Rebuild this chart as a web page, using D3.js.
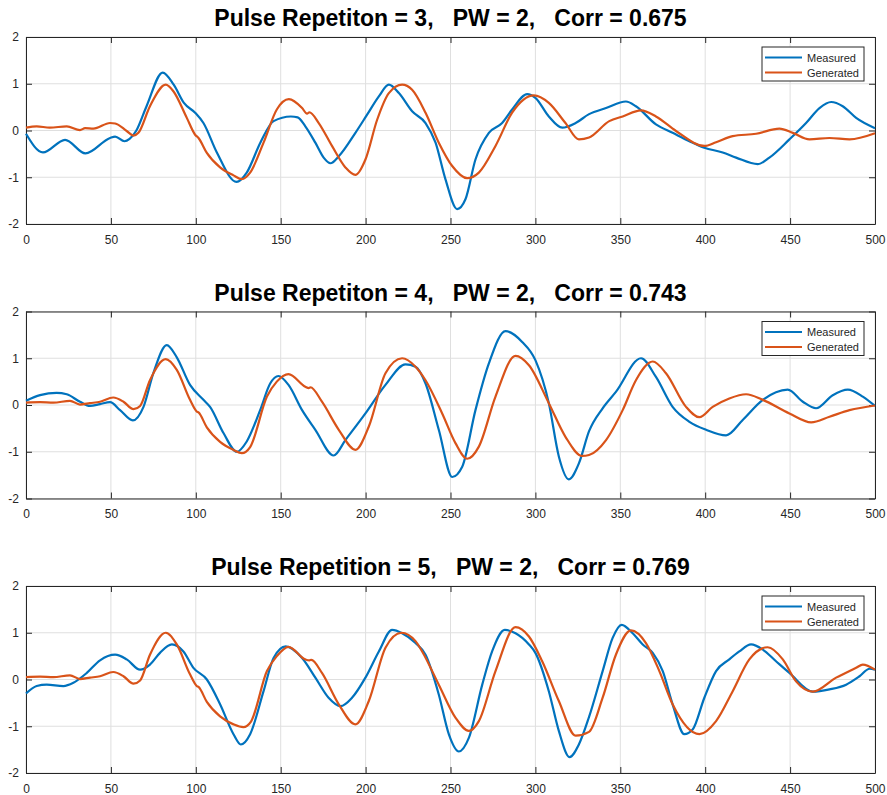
<!DOCTYPE html>
<html>
<head>
<meta charset="utf-8">
<script src="https://cdn.jsdelivr.net/npm/d3@7"></script>
<style>
  html, body { margin: 0; padding: 0; background: #fff; }
  svg { display: block; font-family: "Liberation Sans", Arial, Helvetica, sans-serif; }
</style>
</head>
<body>
<svg id="chart" width="887" height="795"></svg>
<script>
// Axis ticks
const xTickValues = [0, 50, 100, 150, 200, 250, 300, 350, 400, 450, 500];
const yTickValues = [-2, -1, 0, 1, 2];

// Panel titles
const titles = [
  "Pulse Repetiton = 3,   PW = 2,   Corr = 0.675",
  "Pulse Repetiton = 4,   PW = 2,   Corr = 0.743",
  "Pulse Repetition = 5,   PW = 2,   Corr = 0.769"
];

const seriesNames = ["Measured", "Generated"];

// Repetition 3 : [sample, amplitude]
const measured3 = [
  [0,-0.07],[10,-0.47],[23,-0.2],[35,-0.49],[49.5,-0.16],[52.5,-0.13],[58,-0.23],[61,-0.18],
  [65,0],[71,0.52],[80.5,1.24],[87,0.98],[93,0.59],[99.6,0.38],[104.5,0.16],[112.4,-0.47],
  [124,-1.1],[130,-0.9],[138,-0.26],[145.8,0.2],[156,0.3],[160,0.28],[164.5,0.09],[170.4,-0.26],
  [175.3,-0.58],[179.3,-0.7],[184.2,-0.55],[194,-0.05],[200.9,0.34],[207.8,0.73],[213.7,0.98],
  [219.6,0.8],[227.4,0.41],[235.3,0.16],[241.2,-0.26],[247,-1.04],[253.9,-1.68],[258.8,-1.47],
  [264.7,-0.62],[272.6,-0.05],[280.4,0.16],[286.3,0.45],[295.2,0.78],[300,0.7],[307.9,0.3],
  [315.8,0.06],[323.7,0.16],[331.6,0.35],[341.6,0.48],[353.3,0.62],[359.2,0.52],[371,0.13],
  [380.8,-0.05],[390.7,-0.23],[399.5,-0.37],[410.3,-0.47],[418.2,-0.58],[431,-0.72],[437.8,-0.58],
  [449.6,-0.19],[459.4,0.16],[467.3,0.48],[474.2,0.61],[481,0.52],[488.9,0.27],[500,0.05]
];
const generated3 = [
  [0,0.06],[6.3,0.09],[14,0.06],[24,0.09],[31.8,0.01],[34.8,0.05],[39.7,0.04],[49.5,0.16],
  [52.5,0.15],[59.3,-0.01],[63.3,-0.11],[66.2,-0.05],[73,0.52],[82.3,0.98],[86.8,0.84],
  [94.7,0.27],[99.6,-0.09],[101.6,-0.16],[106.5,-0.48],[114.3,-0.79],[122.2,-0.96],[127.1,-1.04],
  [132,-0.9],[139.9,-0.26],[147.7,0.45],[154.8,0.67],[162.6,0.48],[165.5,0.36],[166.9,0.39],
  [172.4,0.16],[180.2,-0.33],[188.1,-0.79],[194,-0.95],[199.9,-0.62],[206.8,0.23],[213.7,0.8],
  [221.5,0.98],[227.4,0.87],[235.3,0.38],[243.1,-0.26],[251,-0.76],[259.8,-1.02],[266.7,-0.9],
  [276.5,-0.33],[286.3,0.38],[299.1,0.75],[307.9,0.59],[317.7,0.16],[325.6,-0.19],[331.6,-0.15],
  [343.5,0.2],[351.4,0.3],[362.2,0.43],[371,0.3],[382.8,-0.01],[399.5,-0.33],[406.4,-0.25],
  [416.2,-0.12],[430,-0.07],[443.7,0.04],[451.6,-0.05],[461.4,-0.19],[473.2,-0.16],[485,-0.19],
  [500,-0.06]
];

// Repetition 4
const measured4 = [
  [0,0.09],[8.3,0.21],[18,0.26],[24,0.23],[31.8,0.07],[37.7,-0.02],[43.6,0.02],[49.5,0.06],
  [55.4,-0.11],[62.9,-0.33],[69.2,-0.04],[75,0.68],[82.9,1.28],[88.8,1.02],[96.6,0.43],
  [104.5,0.11],[108.4,-0.04],[116.3,-0.6],[124.2,-1.0],[130,-0.78],[137.9,-0.11],[143.8,0.46],
  [148.7,0.62],[154.6,0.43],[162.6,-0.11],[170.4,-0.53],[181.2,-1.08],[188.1,-0.75],
  [199.9,-0.18],[211.7,0.43],[223.5,0.87],[229.4,0.82],[235.3,0.46],[243.1,-0.53],[251,-1.54],
  [256.9,-1.32],[264.7,-0.11],[272.6,0.89],[282.4,1.58],[292.2,1.35],[300,0.96],[307.9,0.04],
  [313.8,-1.1],[319.7,-1.59],[325.6,-1.25],[331.6,-0.56],[339.6,-0.07],[347.4,0.28],
  [362.2,1.0],[371,0.6],[380.8,-0.04],[390.7,-0.36],[400.5,-0.53],[412.3,-0.65],[422.1,-0.32],
  [433.9,0.11],[448.6,0.33],[457.5,0.07],[465.3,-0.07],[475.1,0.21],[484,0.33],[492.8,0.18],
  [500,-0.02]
];
const generated4 = [
  [0,0.05],[8.3,0.06],[16.1,0.05],[25.9,0.09],[31.8,0.01],[37.7,0.04],[43.6,0.07],[51.4,0.16],
  [57.4,0.07],[63.3,-0.09],[67.2,-0.02],[73,0.53],[82.3,0.98],[88.8,0.75],[96.6,0.11],
  [100.6,-0.14],[101.6,-0.16],[106.5,-0.48],[114.3,-0.79],[122.2,-0.96],[127.1,-1.03],
  [132,-0.9],[141.9,0.18],[147.7,0.5],[154.6,0.66],[164.5,0.39],[166.5,0.36],[167.5,0.38],
  [174.3,0.07],[184.2,-0.53],[194,-0.96],[201.9,-0.46],[211.7,0.68],[221.5,1.0],[229.4,0.82],
  [235.3,0.53],[245.1,-0.18],[253,-0.82],[259.8,-1.15],[266.7,-0.89],[276.5,0.18],[288.3,1.05],
  [296.2,0.85],[307.9,0.04],[317.7,-0.68],[327.5,-1.09],[331.6,-1.07],[341.6,-0.75],
  [351.4,-0.11],[359.2,0.53],[369.1,0.93],[376.9,0.68],[388.7,-0.04],[396.6,-0.26],
  [404.4,-0.04],[414.2,0.14],[424.1,0.23],[433.9,0.11],[449.6,-0.18],[462.4,-0.37],
  [473.2,-0.25],[485,-0.11],[500,-0.01]
];

// Repetition 5
const measured5 = [
  [0,-0.3],[6.3,-0.14],[12.2,-0.11],[22,-0.14],[27.9,-0.07],[35.8,0.14],[43.6,0.41],[52.5,0.53],
  [59.3,0.43],[67.2,0.21],[73,0.32],[78.9,0.57],[85.9,0.75],[92.7,0.6],[98.6,0.25],[106.5,0],
  [114.3,-0.53],[122.2,-1.17],[126.5,-1.39],[132,-1.17],[139.9,-0.25],[145.8,0.46],
  [153,0.71],[162.6,0.46],[170.4,0.04],[178.2,-0.39],[185.2,-0.57],[192,-0.39],[199.9,0.04],
  [207.8,0.6],[215.6,1.06],[221.5,0.99],[229.4,0.78],[235.3,0.53],[243.1,-0.32],[249,-1.17],
  [254.9,-1.54],[260.8,-1.25],[268.7,-0.11],[274.5,0.6],[282,1.06],[288.3,0.99],[296.2,0.75],
  [300,0.57],[307.9,-0.25],[313.8,-1.1],[320.1,-1.66],[325.6,-1.39],[331.6,-0.8],[339.6,0.18],
  [345.5,0.89],[350.8,1.17],[357.3,0.99],[363.2,0.75],[369.1,0.57],[375,0.18],[380.8,-0.53],
  [387.7,-1.17],[392.6,-1.07],[399.5,-0.39],[406.4,0.18],[414.2,0.43],[420.1,0.6],[427,0.75],
  [433.9,0.64],[441.7,0.39],[449.6,0.14],[463.4,-0.26],[473.2,-0.21],[483,-0.11],[490.9,0.07],
  [496.8,0.23],[500,0.21]
];
const generated5 = [
  [0,0.05],[8.3,0.06],[16.1,0.05],[25.9,0.09],[31.8,0.01],[37.7,0.04],[43.6,0.07],[51.4,0.16],
  [57.4,0.07],[63.3,-0.09],[67.2,-0.02],[73,0.53],[82.3,1.0],[88.8,0.75],[96.6,0.11],
  [100.6,-0.14],[101.6,-0.16],[106.5,-0.48],[114.3,-0.79],[122.2,-0.96],[128,-1.02],
  [132.5,-0.9],[141.9,0.18],[147.7,0.5],[154.6,0.7],[164.5,0.43],[167,0.41],[168,0.42],
  [174.3,0.14],[184.2,-0.53],[194,-0.96],[201.9,-0.46],[211.7,0.68],[221.1,1.0],[229.4,0.82],
  [233.3,0.6],[243.1,-0.11],[253,-0.82],[260.8,-1.1],[266.7,-0.89],[276.5,0.18],[288.3,1.12],
  [296.2,0.92],[304,0.39],[313.8,-0.46],[323.7,-1.2],[331.6,-1.12],[339.6,-0.39],[347.4,0.53],
  [356.3,1.05],[365.1,0.78],[373,0.18],[380.8,-0.53],[396.6,-1.17],[406.4,-0.89],[416.2,-0.25],
  [426,0.43],[436.8,0.69],[445.7,0.43],[453.5,-0.04],[463.4,-0.26],[477.1,0.04],[488.9,0.25],
  [492.8,0.32],[500,0.21]
];

const panels = [
  { title: titles[0], measured: measured3, generated: generated3 },
  { title: titles[1], measured: measured4, generated: generated4 },
  { title: titles[2], measured: measured5, generated: generated5 }
];

const colors = { Measured: "#0072BD", Generated: "#D95319" };
const axisColor = "#262626";
const gridColor = "#dfdfdf";

const svg = d3.select("#chart");

const left = 26, right = 875, plotH = 187;
const panelTops = [37, 311.5, 586];

const x = d3.scaleLinear().domain([0, 500]).range([left, right]);
const plainNumber = d => String(d);

panels.forEach((p, i) => {
  const top = panelTops[i];
  const y = d3.scaleLinear().domain([-2, 2]).range([top + plotH, top]);
  const g = svg.append("g");

  // grid
  g.append("g").selectAll("line").data(xTickValues).join("line")
    .attr("x1", d => x(d)).attr("x2", d => x(d))
    .attr("y1", top).attr("y2", top + plotH)
    .attr("stroke", gridColor).attr("stroke-width", 1);
  g.append("g").selectAll("line").data(yTickValues).join("line")
    .attr("x1", left).attr("x2", right)
    .attr("y1", d => y(d)).attr("y2", d => y(d))
    .attr("stroke", gridColor).attr("stroke-width", 1);

  // axes with inward ticks on all four sides
  const tickLen = 6;
  const bottomAxis = d3.axisBottom(x).tickValues(xTickValues).tickFormat(plainNumber)
    .tickSizeInner(-tickLen).tickSizeOuter(0).tickPadding(tickLen + 5);
  const topAxis = d3.axisTop(x).tickValues(xTickValues).tickSizeInner(-tickLen).tickSizeOuter(0).tickFormat("");
  const leftAxis = d3.axisLeft(y).tickValues(yTickValues).tickFormat(plainNumber)
    .tickSizeInner(-tickLen).tickSizeOuter(0).tickPadding(tickLen + 1);
  const rightAxis = d3.axisRight(y).tickValues(yTickValues).tickSizeInner(-tickLen).tickSizeOuter(0).tickFormat("");

  const styleAxis = sel => {
    sel.selectAll("path").attr("stroke", axisColor).attr("stroke-width", 1);
    sel.selectAll("line").attr("stroke", axisColor).attr("stroke-width", 1);
    sel.selectAll("text").attr("fill", axisColor).attr("font-size", 12)
      .attr("font-family", "'Liberation Sans', Arial, Helvetica, sans-serif");
  };

  g.append("g").attr("transform", `translate(0,${top + plotH})`).call(bottomAxis).call(styleAxis);
  g.append("g").attr("transform", `translate(0,${top})`).call(topAxis).call(styleAxis);
  g.append("g").attr("transform", `translate(${left},0)`).call(leftAxis).call(styleAxis);
  g.append("g").attr("transform", `translate(${right},0)`).call(rightAxis).call(styleAxis);

  // series
  const line = d3.line()
    .x(d => x(d[0]))
    .y(d => y(d[1]))
    .curve(d3.curveMonotoneX);

  g.append("path").datum(p.measured)
    .attr("d", line).attr("fill", "none")
    .attr("stroke", colors.Measured).attr("stroke-width", 2.2)
    .attr("stroke-linejoin", "round");
  g.append("path").datum(p.generated)
    .attr("d", line).attr("fill", "none")
    .attr("stroke", colors.Generated).attr("stroke-width", 2.2)
    .attr("stroke-linejoin", "round");

  // title
  svg.append("text")
    .attr("x", (left + right) / 2).attr("y", top - 11)
    .attr("text-anchor", "middle")
    .attr("font-size", 23).attr("font-weight", "bold")
    .attr("fill", "#000")
    .style("white-space", "pre")
    .text(p.title);

  // legend
  const lx = 762, ly = top + 10, lw = 102, lh = 34;
  const leg = g.append("g");
  leg.append("rect").attr("x", lx).attr("y", ly).attr("width", lw).attr("height", lh)
    .attr("fill", "#fff").attr("stroke", axisColor).attr("stroke-width", 1);
  seriesNames.forEach((name, k) => {
    const ry = ly + 10.5 + k * 15;
    leg.append("line").attr("x1", lx + 3).attr("x2", lx + 40)
      .attr("y1", ry).attr("y2", ry)
      .attr("stroke", colors[name]).attr("stroke-width", 2.2);
    leg.append("text").attr("x", lx + 45).attr("y", ry + 4)
      .attr("font-size", 11).attr("fill", axisColor)
      .text(name);
  });
});
</script>
</body>
</html>
